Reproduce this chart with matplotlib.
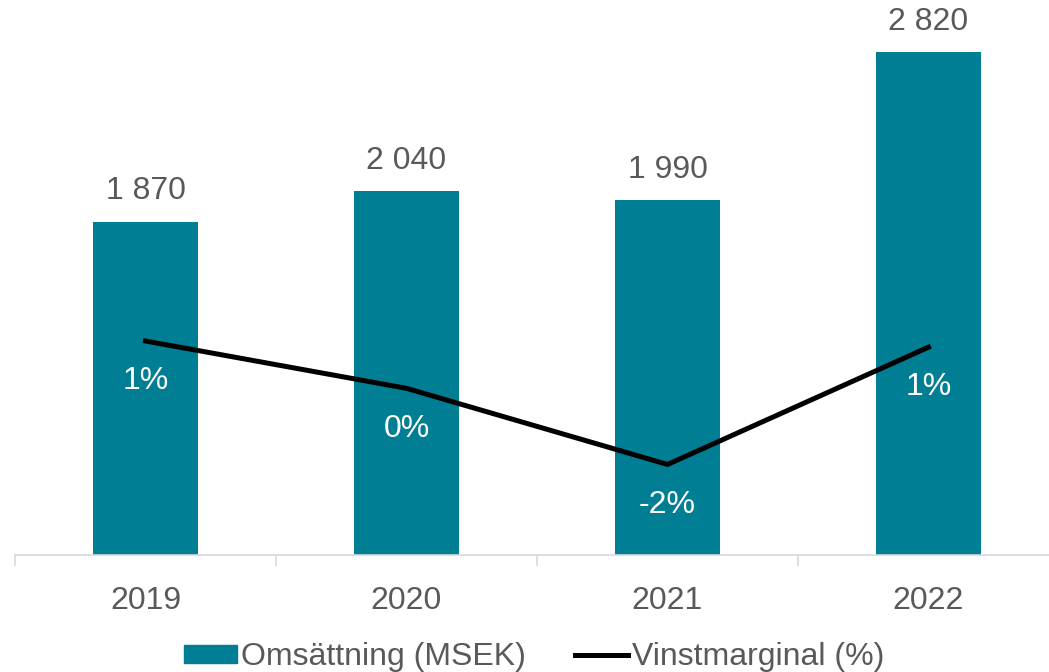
import matplotlib.pyplot as plt
from matplotlib.patches import Patch
from matplotlib.lines import Line2D

# data
years = ["2019", "2020", "2021", "2022"]
omsattning = [1870, 2040, 1990, 2820]          # MSEK
vinstmarginal = [1.2, 0.05, -1.8, 1.05]        # %

bar_color = "#007E93"
text_color = "#595959"
plt.rcParams["font.family"] = ["Liberation Sans", "DejaVu Sans"]
fs = 23

fig = plt.figure(figsize=(10.49, 6.72), dpi=100)
ax = fig.add_axes([15 / 1049, 117 / 672, 1044 / 1049, 535 / 672])
x = list(range(len(years)))

bars = ax.bar(x, omsattning, width=0.40, color=bar_color, zorder=2)
for xi, v in zip(x, omsattning):
    ax.annotate(f"{v:,}".replace(",", " "), (xi, v), xytext=(0, 11), textcoords="offset points",
                ha="center", va="bottom", fontsize=fs, color=text_color)

ax.set_xlim(-0.5, 3.5)
ax.set_ylim(0, 3000)
ax.set_yticks([])
for s in ["top", "right", "left"]:
    ax.spines[s].set_visible(False)
ax.spines["bottom"].set_color("#D9D9D9")
ax.spines["bottom"].set_linewidth(1.2)
ax.set_xticks([-0.5, 0.5, 1.5, 2.5, 3.5])
ax.set_xticklabels([])
ax.set_xticks(x, minor=True)
ax.set_xticklabels(years, minor=True, fontsize=fs, color=text_color)
ax.tick_params(axis="x", which="major", length=8, color="#D9D9D9", width=1.2)
ax.tick_params(axis="x", which="minor", length=0, pad=22)

# line on hidden secondary axis
ax2 = ax.twinx()
ax2.set_ylim(-4, 9)
ax2.plot(x, vinstmarginal, color="black", linewidth=3.6, zorder=3)
for xi, v in zip(x, vinstmarginal):
    ax2.annotate(f"{v:.0f}%", (xi, v), xytext=(0, -29), textcoords="offset points",
                 ha="center", va="center", fontsize=fs, color="white")
ax2.axis("off")

handles = [Patch(color=bar_color, label="Omsättning (MSEK)"),
           Line2D([], [], color="black", linewidth=3.6, label="Vinstmarginal (%)")]
fig.legend(handles=handles, loc="center", bbox_to_anchor=(534 / 1049, 15 / 672), ncol=2,
           frameon=False, fontsize=fs, handlelength=1.65, handleheight=0.5,
           handletextpad=0.12, columnspacing=1.55, labelcolor=text_color)

fig.savefig("out.png", dpi=100)
